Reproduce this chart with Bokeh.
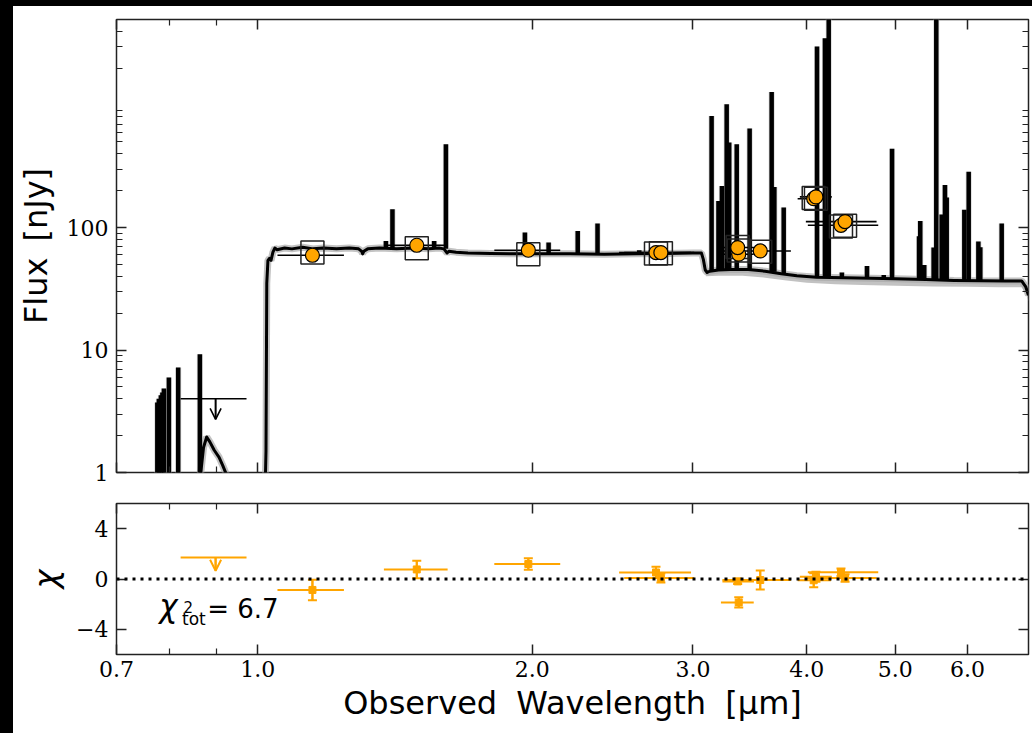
from bokeh.plotting import figure
from bokeh.models import (Range1d, FixedTicker, PrintfTickFormatter, LogAxis, LinearAxis,
                          ColumnDataSource, Whisker, TeeHead, Arrow, OpenHead, Label, Span, Spacer)
from bokeh.layouts import column, row
from bokeh.embed import file_html
from bokeh.resources import INLINE

# ---------------- model spectrum (continuum) ----------------
cont_wl = [0.860, 0.866, 0.872, 0.879, 0.886, 0.896, 0.907, 0.915, 0.923, 0.932,
           1.016, 1.021, 1.023, 1.026, 1.030, 1.034, 1.039, 1.044, 1.05, 1.07, 1.09,
           1.12, 1.15, 1.18, 1.22, 1.26, 1.29, 1.30, 1.303, 1.307, 1.32, 1.36, 1.42,
           1.48, 1.54, 1.58, 1.60, 1.613, 1.62, 1.65, 1.70, 1.80, 1.90, 2.00, 2.20,
           2.40, 2.60, 2.80, 3.00, 3.065, 3.08, 3.095, 3.11, 3.13, 3.20, 3.30, 3.45,
           3.60, 3.75, 3.90, 4.10, 4.40, 4.70, 5.00, 5.40, 5.80, 6.20, 6.60, 6.88,
           6.95, 7.0]
cont_flux = [0.3, 1.0, 1.6, 1.95, 1.78, 1.52, 1.33, 1.15, 0.98, 0.6,
             0.3, 1.5, 35, 54, 56, 54, 63, 68, 66, 68, 67,
             69, 67, 68, 67, 68, 67, 64, 61, 64, 67, 68, 67,
             68, 67, 68, 67, 62, 64, 63, 62, 61.5, 61, 61, 61,
             60.5, 61, 61.5, 62, 62, 55, 45, 43, 44, 45, 45.5, 45.5,
             44, 42, 40.5, 39.3, 39, 38.6, 38.2, 37.6, 37, 36.8, 36.7, 36.7,
             33, 28]

# lower grey uncertainty band of the model (red part)
band_wl = [3.08, 3.10, 3.2, 3.4, 3.6, 3.8, 4.0, 4.3, 4.6, 5.0, 5.5, 6.0, 6.5, 6.88, 6.95, 7.0]
band_hi = [56, 46, 46, 46.5, 45, 43, 41, 40, 39.5, 39, 38.3, 37.8, 37.6, 37.6, 34, 29]
band_lo = [50, 40, 40.5, 40.5, 39, 37, 35.5, 34.5, 34, 33.5, 33, 32.8, 32.6, 32.6, 29, 25]

# ---------------- emission lines of the model ----------------
line_wl = [0.776, 0.779, 0.783, 0.786, 0.789, 0.799, 0.818, 0.864,
           1.382, 1.405, 1.561, 1.608, 1.963, 2.084, 2.243, 2.358, 2.620,
           3.145, 3.200, 3.228, 3.267, 3.288, 3.351, 3.462, 3.660, 3.685, 3.773,
           4.104, 4.187, 4.227, 4.370, 4.656, 4.857, 4.960, 5.310, 5.326, 5.380,
           5.509, 5.546, 5.622, 5.669, 5.694, 5.953, 6.019, 6.168, 6.198, 6.542]
line_peak = [3.73, 4.0, 4.28, 4.5, 4.85, 5.97, 7.19, 9.24,
             77.7, 141, 77.7, 478, 91, 75.4, 93.8, 108, 65.3,
             813, 165, 218, 1015, 494, 478, 643, 1279, 214, 146,
             3004, 3510, 9000, 43, 48.6, 41, 441, 85, 113, 49.5,
             68.7, 9000, 128, 223, 176, 140, 286, 77, 69, 108]
line_base = [0.5, 0.5, 0.5, 0.5, 0.5, 0.5, 0.5, 0.5,
             68, 68, 68, 67, 62, 61.5, 61, 61, 61,
             44, 45, 45, 45, 45.5, 45.5, 45.5, 44, 43.5, 42.5,
             39.3, 39.2, 39.2, 39, 38.6, 38.3, 38.2, 37.7, 37.7, 37.6,
             37.5, 37.4, 37.3, 37.2, 37.1, 36.9, 36.8, 36.8, 36.8, 36.7]

# ---------------- photometry ----------------
phot_wl = [1.148, 1.494, 1.980, 2.733, 2.767, 3.368, 3.359, 3.556, 4.070, 4.093, 4.360, 4.405]
phot_lo = [1.051, 1.375, 1.817, 2.490, 2.522, 3.220, 3.232, 3.232, 3.908, 3.930, 4.010, 3.990]
phot_hi = [1.243, 1.615, 2.146, 2.986, 3.010, 3.498, 3.500, 3.842, 4.252, 4.260, 4.790, 4.770]
phot_flux = [59.4, 71.7, 65.3, 62.5, 62.5, 60.6, 68.7, 64.4, 172, 178, 104.4, 111.9]
model_flux = [62.5, 67.8, 60.6, 61.3, 61.8, 65.0, 69.5, 63.4, 174, 172, 101.9, 103.5]
chi = [-0.87, 0.76, 1.19, 0.52, 0.08, -1.86, -0.19, -0.08, -0.10, 0.18, 0.53, 0.08]
chi_err = [0.82, 0.70, 0.45, 0.45, 0.35, 0.40, 0.20, 0.75, 0.55, 0.40, 0.30, 0.30]

# upper limit (F090W)
ul_wl, ul_lo, ul_hi = [0.899], [0.823], [0.972]
ul_flux, ul_flux_tip = [4.0], [2.72]
ul_chi, ul_chi_tip = [1.71], [0.66]

chi2_tot = 6.7

x_ticks = [0.7, 1, 2, 3, 4, 5, 6]
x_minor = [0.8, 0.9]
y_ticks = [1, 10, 100]
y_minor = [2, 3, 4, 5, 6, 7, 8, 9, 20, 30, 40, 50, 60, 70, 80, 90,
           200, 300, 400, 500, 600, 700, 800, 900, 2000, 3000, 4000]
chi_ticks = [-4, 0, 4]

ORANGE = "#FFA500"
DARK = "#222222"


def style_axis(ax, labels=True, size="22px"):
    ax.major_tick_in = 10
    ax.major_tick_out = 0
    ax.minor_tick_in = 6
    ax.minor_tick_out = 0
    ax.major_tick_line_color = DARK
    ax.minor_tick_line_color = DARK
    ax.major_tick_line_width = 1.5
    ax.minor_tick_line_width = 1.2
    ax.axis_line_color = None
    ax.major_label_text_font = "DejaVu Serif"
    if labels:
        ax.major_label_text_color = "black"
        ax.major_label_text_font_size = size
        ax.major_label_standoff = 8
    else:
        ax.major_label_text_color = "white"
        ax.major_label_text_alpha = 0.0
        ax.major_label_text_font_size = "1px"
        ax.major_label_standoff = 0
    ax.axis_label_text_font = "DejaVu Sans"
    ax.axis_label_text_font_style = "normal"
    ax.axis_label_text_color = "black"


x_range = Range1d(0.7, 7.0)

# ---------------- top panel ----------------
top = figure(width=1019, height=485, x_axis_type="log", y_axis_type="log",
             x_range=x_range, y_range=Range1d(1, 5000),
             output_backend="svg", toolbar_location=None,
             min_border_left=103, min_border_right=4, min_border_top=13, min_border_bottom=19)
top.xgrid.grid_line_color = None
top.ygrid.grid_line_color = None
top.outline_line_color = DARK
top.outline_line_width = 1.5

top.xaxis.ticker = FixedTicker(ticks=x_ticks, minor_ticks=x_minor)
top.yaxis.ticker = FixedTicker(ticks=y_ticks, minor_ticks=y_minor)
top.yaxis.formatter = PrintfTickFormatter(format="%d")
style_axis(top.xaxis[0], labels=False)
style_axis(top.yaxis[0], labels=True)
top.yaxis.axis_label = "Flux\u2002[nJy]"
top.yaxis.axis_label_text_font_size = "32px"
top.yaxis.axis_label_standoff = 9
ax = LogAxis(ticker=FixedTicker(ticks=x_ticks, minor_ticks=x_minor))
style_axis(ax, labels=False)
top.add_layout(ax, "above")
ax = LogAxis(ticker=FixedTicker(ticks=y_ticks, minor_ticks=y_minor))
style_axis(ax, labels=False)
top.add_layout(ax, "right")

# model uncertainty
top.varea(x=band_wl, y1=band_lo, y2=band_hi, fill_color="#9a9a9a", fill_alpha=0.6)
top.line(cont_wl, cont_flux, line_color="#aaaaaa", line_width=7, line_alpha=0.7)
top.segment(x0=line_wl, y0=line_base, x1=line_wl, y1=line_peak,
            line_color="#bbbbbb", line_width=6, line_alpha=0.6)
top.segment(x0=line_wl, y0=line_base, x1=line_wl, y1=line_peak,
            line_color="black", line_width=4.5)
top.line(cont_wl, cont_flux, line_color="black", line_width=3, line_join="round")

# photometry
top.segment(x0=phot_lo, y0=phot_flux, x1=phot_hi, y1=phot_flux, line_color="black", line_width=1.6)
top.scatter(phot_wl, model_flux, marker="square", size=23, fill_color=None,
            line_color=DARK, line_width=1.5)
top.scatter(phot_wl, phot_flux, marker="circle", size=14, fill_color=ORANGE,
            line_color="black", line_width=1.2)
top.segment(x0=ul_lo, y0=ul_flux, x1=ul_hi, y1=ul_flux, line_color="black", line_width=1.6)
ul_top_src = ColumnDataSource(dict(x0=ul_wl, y0=ul_flux, x1=ul_wl, y1=ul_flux_tip))
top.segment(x0="x0", y0="y0", x1="x1", y1="y1", source=ul_top_src,
            line_color="black", line_width=1.6)
top.add_layout(Arrow(end=OpenHead(size=11, line_color="black", line_width=1.6),
                     source=ul_top_src, x_start="x0", y_start="y0", x_end="x1", y_end="y1",
                     line_color="black", line_width=1.6))

# ---------------- residual panel ----------------
bot = figure(width=1019, height=242, x_axis_type="log",
             x_range=x_range, y_range=Range1d(-6, 6),
             output_backend="svg", toolbar_location=None,
             min_border_left=103, min_border_right=4, min_border_top=12, min_border_bottom=79)
bot.xgrid.grid_line_color = None
bot.ygrid.grid_line_color = None
bot.outline_line_color = DARK
bot.outline_line_width = 1.5
bot.xaxis.ticker = FixedTicker(ticks=x_ticks, minor_ticks=x_minor)
bot.xaxis.formatter = PrintfTickFormatter(format="%.1f")
bot.yaxis.ticker = FixedTicker(ticks=chi_ticks, minor_ticks=[])
bot.yaxis.major_label_overrides = {-4: "\u22124", 0: "0", 4: "4"}
style_axis(bot.xaxis[0], labels=True)
style_axis(bot.yaxis[0], labels=True)
bot.xaxis.major_label_standoff = 6
bot.xaxis.axis_label = "Observed\u2002\u200aWavelength\u2002\u200a[\u03bcm]"
bot.xaxis.axis_label_text_font_size = "32px"
bot.xaxis.axis_label_standoff = 4
bot.yaxis.axis_label = "\u03c7"
bot.yaxis.axis_label_text_font_style = "italic"
bot.yaxis.axis_label_text_font_size = "32px"
bot.yaxis.axis_label_standoff = 8
ax = LogAxis(ticker=FixedTicker(ticks=x_ticks, minor_ticks=x_minor))
style_axis(ax, labels=False)
bot.add_layout(ax, "above")
ax = LinearAxis(ticker=FixedTicker(ticks=chi_ticks, minor_ticks=[]))
style_axis(ax, labels=False)
bot.add_layout(ax, "right")

bot.add_layout(Span(location=0, dimension="width", line_color="black",
                    line_width=3, line_dash="3 5"))
src = ColumnDataSource(dict(x=phot_wl, lo=phot_lo, hi=phot_hi, chi=chi,
                            up=[c + e for c, e in zip(chi, chi_err)],
                            dn=[c - e for c, e in zip(chi, chi_err)]))
bot.segment(x0="lo", y0="chi", x1="hi", y1="chi", source=src, line_color=ORANGE, line_width=2)
bot.segment(x0="x", y0="dn", x1="x", y1="up", source=src, line_color=ORANGE, line_width=2)
bot.add_layout(Whisker(source=src, base="x", upper="up", lower="dn", dimension="height",
                       line_color=ORANGE, line_width=2,
                       upper_head=TeeHead(size=9, line_color=ORANGE, line_width=2),
                       lower_head=TeeHead(size=9, line_color=ORANGE, line_width=2)))
bot.scatter(x="x", y="chi", source=src, marker="square", size=7, fill_color=ORANGE,
            line_color=ORANGE)
bot.segment(x0=ul_lo, y0=ul_chi, x1=ul_hi, y1=ul_chi, line_color=ORANGE, line_width=2)
ul_bot_src = ColumnDataSource(dict(x0=ul_wl, y0=ul_chi, x1=ul_wl, y1=ul_chi_tip))
bot.segment(x0="x0", y0="y0", x1="x1", y1="y1", source=ul_bot_src,
            line_color=ORANGE, line_width=2)
bot.add_layout(Arrow(end=OpenHead(size=11, line_color=ORANGE, line_width=2),
                     source=ul_bot_src, x_start="x0", y_start="y0", x_end="x1", y_end="y1",
                     line_color=ORANGE, line_width=2))

# chi^2_tot annotation
bot.add_layout(Label(x=0.780, y=-3.57, text="\u03c7", text_font="DejaVu Sans",
                     text_font_style="italic", text_font_size="31px", text_color="black"))
bot.add_layout(Label(x=0.829, y=-2.72, text="2", text_font="DejaVu Sans",
                     text_font_size="15px", text_color="black"))
bot.add_layout(Label(x=0.826, y=-3.95, text="tot", text_font="DejaVu Sans",
                     text_font_size="17px", text_color="black"))
bot.add_layout(Label(x=0.880, y=-3.57, text="= %.1f" % chi2_tot, text_font="DejaVu Sans",
                     text_font_size="26px", text_color="black"))

left_bar = Spacer(width=13, height=733, styles={"background-color": "black"})
top_bar = Spacer(width=1019, height=6, styles={"background-color": "black"})
p = row(left_bar, column(top_bar, top, bot))

open("out.html", "w").write(file_html(p, INLINE))
